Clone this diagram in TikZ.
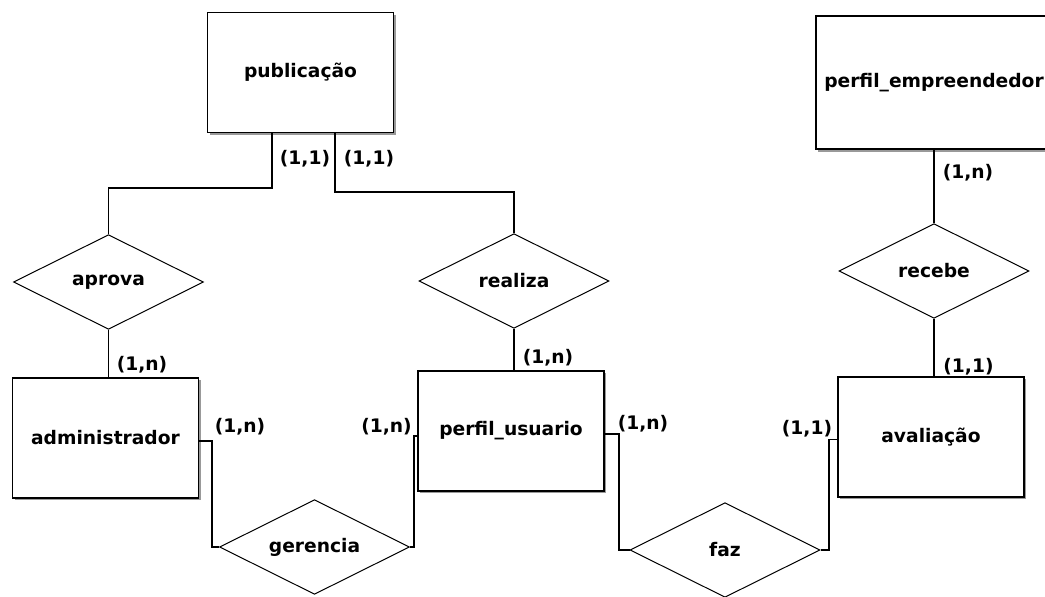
\documentclass[tikz,border=0pt]{standalone}
\usepackage{fontspec}
\setmainfont{DejaVu Sans}
\usepackage{tikz}
\usetikzlibrary{shapes.geometric, shadows}

\begin{document}
\begin{tikzpicture}[x=0.75pt,y=-0.75pt,
 entidade/.style={draw, line width=1.3pt, fill=white, inner sep=0pt,
   minimum width=139.5pt, minimum height=90pt, font=\fontsize{14}{16}\selectfont\bfseries,
   drop shadow={shadow xshift=1.8pt, shadow yshift=-1.8pt, fill=black!50, opacity=0.8}},
 relacao/.style={diamond, draw, line width=0.75pt, fill=white, inner sep=0pt, aspect=2,
   minimum width=142.5pt, minimum height=71pt, font=\fontsize{14}{16}\selectfont\bfseries},
 ligacao/.style={line width=0.95pt},
 card/.style={font=\fontsize{14}{16}\selectfont\bfseries, inner sep=0pt}]
 \useasboundingbox (0,0) rectangle (1045,596);
 % entidades
 \node[entidade] (publicacao) at (300.5,72.5) {publicação};
 \node[entidade, minimum width=177pt, minimum height=100pt] (perfilempreendedor) at (934,82.5) {perfil\_empreendedor};
 \node[entidade] (administrador) at (105.5,438) {administrador};
 \node[entidade] (perfilusuario) at (511,431) {perfil\_usuario};
 \node[entidade] (avaliacao) at (931,437) {avaliação};
 % relacionamentos
 \node[relacao] (aprova) at (108.5,282) {aprova};
 \node[relacao] (realiza) at (514,281) {realiza};
 \node[relacao] (recebe) at (934,271) {recebe};
 \node[relacao] (gerencia) at (314.5,547) {gerencia};
 \node[relacao] (faz) at (725,550) {faz};
 % ligacoes
 \draw[ligacao] (272,0 |- publicacao.south) -- (272,188) -| (aprova.north);
 \draw[ligacao] (335,0 |- publicacao.south) -- (335,192) -| (realiza.north);
 \draw[ligacao] (aprova.south) -- (aprova.south |- administrador.north);
 \draw[ligacao] (realiza.south) -- (realiza.south |- perfilusuario.north);
 \draw[ligacao] (recebe.north |- perfilempreendedor.south) -- (recebe.north);
 \draw[ligacao] (recebe.south) -- (recebe.south |- avaliacao.north);
 \draw[ligacao] (administrador.east |- 0,441) -- (212,441) |- (gerencia.west);
 \draw[ligacao] (gerencia.east) -- (414,547) |- (perfilusuario.west |- 0,436);
 \draw[ligacao] (perfilusuario.east |- 0,434) -- (619,434) |- (faz.west);
 \draw[ligacao] (faz.east) -- (829,550) |- (avaliacao.west |- 0,439.5);
 % cardinalidades
 \node[card] (c1) at (305,159) {(1,1)};
 \node[card] (c2) at (369,159) {(1,1)};
 \node[card] (c3) at (968,173) {(1,n)};
 \node[card] (c4) at (142,365) {(1,n)};
 \node[card] (c5) at (240,427) {(1,n)};
 \node[card] (c6) at (386.5,427) {(1,n)};
 \node[card] (c7) at (548,358) {(1,n)};
 \node[card] (c8) at (643,424) {(1,n)};
 \node[card] (c9) at (807,429) {(1,1)};
 \node[card] (c10) at (968.5,367) {(1,1)};
\end{tikzpicture}
\end{document}
